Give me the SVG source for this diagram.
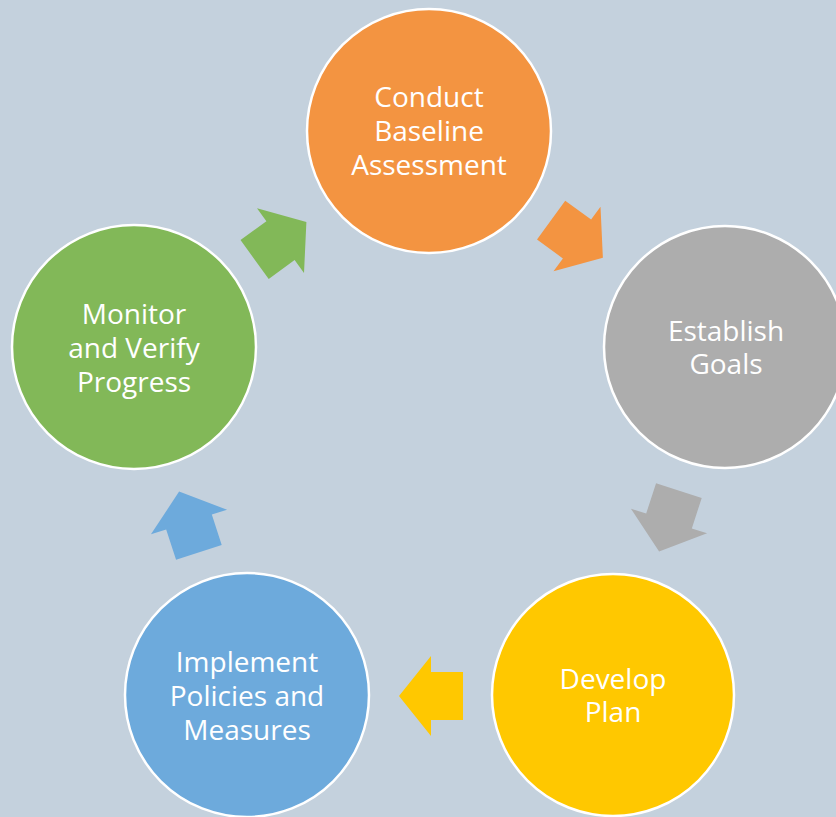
<svg xmlns="http://www.w3.org/2000/svg" width="836" height="817" viewBox="0 0 836 817">
  <style>
    .node circle { stroke: #ffffff; stroke-width: 2.5; }
    .node text { font-family: "Open Sans", "Noto Sans", sans-serif; font-size: 28px; fill: #ffffff; text-anchor: middle; }
    .orange { fill: #F39441; }
    .gray { fill: #ADADAD; }
    .yellow { fill: #FFC800; }
    .blue { fill: #6DAADC; }
    .green { fill: #82B858; }
  </style>
  <defs>
    <polygon id="arrow" points="-32,-24 0,-24 0,-40 32,0 0,40 0,24 -32,24"/>
  </defs>
  <rect x="0" y="0" width="836" height="817" fill="#C4D1DD"/>

  <g id="connectors">
    <use href="#arrow" class="green" transform="translate(280.5,240.7) rotate(-36)"/>
    <use href="#arrow" class="orange" transform="translate(577,239) rotate(36)"/>
    <use href="#arrow" class="gray" transform="translate(669,521) rotate(108)"/>
    <use href="#arrow" class="yellow" transform="translate(431,696) rotate(180)"/>
    <use href="#arrow" class="blue" transform="translate(189,522) rotate(-108)"/>
  </g>

  <g id="node-baseline" class="node">
    <circle cx="429" cy="131" r="122" class="orange"/>
    <text x="429" y="107">Conduct</text>
    <text x="429" y="141">Baseline</text>
    <text x="429" y="175">Assessment</text>
  </g>

  <g id="node-goals" class="node">
    <circle cx="725" cy="347" r="121" class="gray"/>
    <text x="726" y="341">Establish</text>
    <text x="726" y="374">Goals</text>
  </g>

  <g id="node-plan" class="node">
    <circle cx="613" cy="695" r="121" class="yellow"/>
    <text x="613" y="689">Develop</text>
    <text x="613" y="722">Plan</text>
  </g>

  <g id="node-implement" class="node">
    <circle cx="247" cy="695" r="122" class="blue"/>
    <text x="247" y="672">Implement</text>
    <text x="247" y="706">Policies and</text>
    <text x="247" y="740">Measures</text>
  </g>

  <g id="node-monitor" class="node">
    <circle cx="134" cy="347" r="122" class="green"/>
    <text x="134" y="324">Monitor</text>
    <text x="134" y="358">and Verify</text>
    <text x="134" y="392">Progress</text>
  </g>
</svg>
